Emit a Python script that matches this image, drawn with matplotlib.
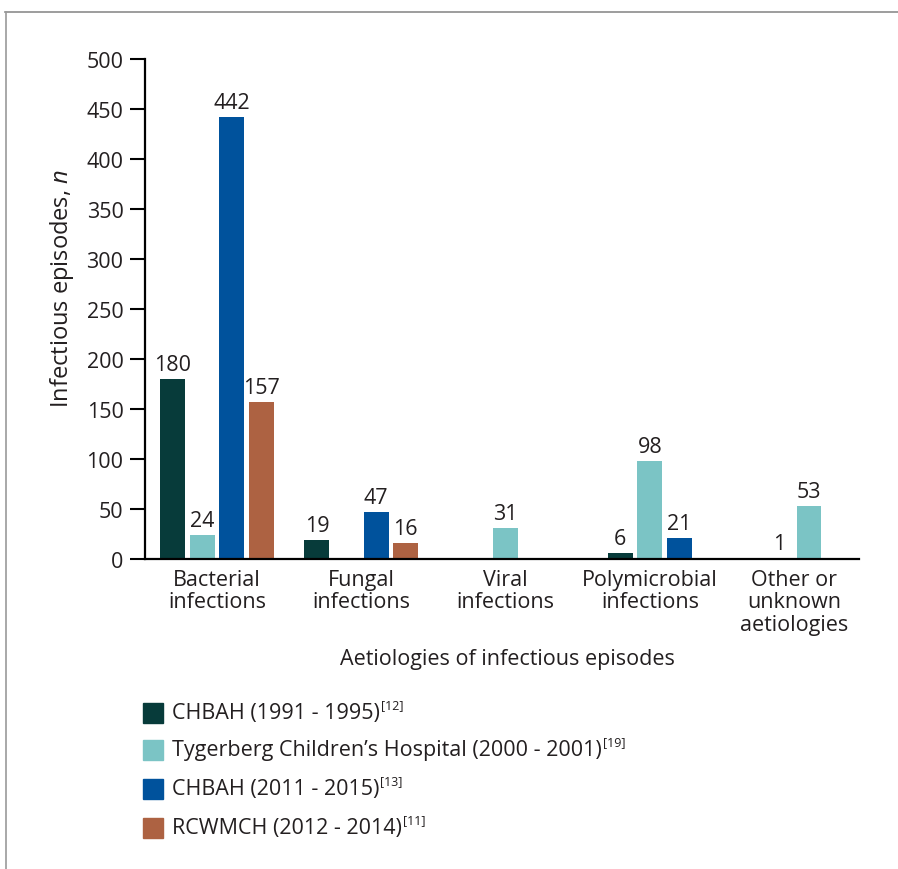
import matplotlib
matplotlib.use("Agg")
import matplotlib.pyplot as plt
from matplotlib.patches import Rectangle
from matplotlib.lines import Line2D

# ---- data -------------------------------------------------------------
categories = ["Bacterial\ninfections", "Fungal\ninfections", "Viral\ninfections",
              "Polymicrobial\ninfections", "Other or\nunknown\naetiologies"]
series_names = ["CHBAH (1991 - 1995)",
                "Tygerberg Children\u2019s Hospital (2000 - 2001)",
                "CHBAH (2011 - 2015)",
                "RCWMCH (2012 - 2014)"]
series_refs = ["[12]", "[19]", "[13]", "[11]"]
chbah_1991 = [180, 19, None, 6, 1]
tygerberg_2000 = [24, None, 31, 98, 53]
chbah_2011 = [442, 47, None, 21, None]
rcwmch_2012 = [157, 16, None, None, None]
yticks = list(range(0, 501, 50))

series_values = [chbah_1991, tygerberg_2000, chbah_2011, rcwmch_2012]
colors = ["#073b3a", "#7bc4c5", "#00529c", "#ad6242"]
text_color = "#231f20"

plt.rcParams["font.family"] = ["Open Sans", "DejaVu Sans"]
plt.rcParams["mathtext.fontset"] = "custom"
plt.rcParams["mathtext.rm"] = "Open Sans"
plt.rcParams["mathtext.it"] = "Open Sans:italic"
FS = 15.5

W, H = 898, 870
fig = plt.figure(figsize=(W / 100, H / 100), dpi=100)
ax_left, ax_right, ax_zero, ax_top = 145, 859, 560, 60
ax = fig.add_axes([ax_left / W, 1 - ax_zero / H,
                   (ax_right - ax_left) / W, (ax_zero - ax_top) / H])

# ---- bars: each group is centred on its category; interior gaps keep a slot
bar_w, step = 0.173, 0.205
for ci in range(len(categories)):
    present = [si for si, vals in enumerate(series_values) if vals[ci] is not None]
    first, last = min(present), max(present)
    n_slots = last - first + 1
    for si in present:
        v = series_values[si][ci]
        x = ci + (si - first - (n_slots - 1) / 2) * step
        bars = ax.bar(x, v, width=bar_w, color=colors[si], zorder=2)
        ax.bar_label(bars, labels=[str(v)], padding=3, fontsize=FS, color=text_color)

ax.set_xlim(-0.499, 4.449)
ax.set_ylim(0, 500)
ax.set_yticks(yticks)
ax.set_xticks(range(len(categories)))
ax.set_xticklabels(categories, fontsize=FS, color=text_color, linespacing=1.09)
ax.tick_params(axis="x", length=0, pad=7)
ax.tick_params(axis="y", length=11, width=1.5, pad=4.5, labelsize=FS,
               labelcolor=text_color, color="#000000")
for side in ("top", "right"):
    ax.spines[side].set_visible(False)
for side in ("left", "bottom"):
    ax.spines[side].set_linewidth(1.6)
    ax.spines[side].set_color("#000000")

ax.set_ylabel(r"Infectious episodes, $\mathit{n}$", fontsize=17, color=text_color,
              va="center")
ax.yaxis.set_label_coords((62 - ax_left) / (ax_right - ax_left),
                          (ax_zero - 289) / (ax_zero - ax_top))
fig.text(507 / W, 1 - 660 / H, "Aetiologies of infectious episodes",
         ha="center", va="center", fontsize=FS, color=text_color)

# ---- legend ----------------------------------------------------------
legend_rows = [714, 751, 790, 829]
label_texts = []
for name, color, yc in zip(series_names, colors, legend_rows):
    fig.patches.append(Rectangle((143 / W, 1 - (yc + 10) / H), 20 / W, 20 / H,
                                 transform=fig.transFigure, color=color))
    t = fig.text(172 / W, 1 - yc / H, name, ha="left", va="center",
                 fontsize=FS, color=text_color)
    label_texts.append(t)

fig.canvas.draw()
renderer = fig.canvas.get_renderer()
for t, ref, yc in zip(label_texts, series_refs, legend_rows):
    bb = t.get_window_extent(renderer)
    fig.text((bb.x1 + 1) / W, 1 - (yc - 8) / H, ref, ha="left", va="center",
             fontsize=9, color=text_color)

# ---- frame lines -----------------------------------------------------
fig.add_artist(Line2D([5 / W, 1], [1 - 12.5 / H, 1 - 12.5 / H],
                      transform=fig.transFigure, color="#8c8c8c", lw=1.2))
fig.add_artist(Line2D([6 / W, 6 / W], [0, 1 - 12.5 / H],
                      transform=fig.transFigure, color="#9a9a9a", lw=1.2))

fig.savefig("out.png", dpi=100)
